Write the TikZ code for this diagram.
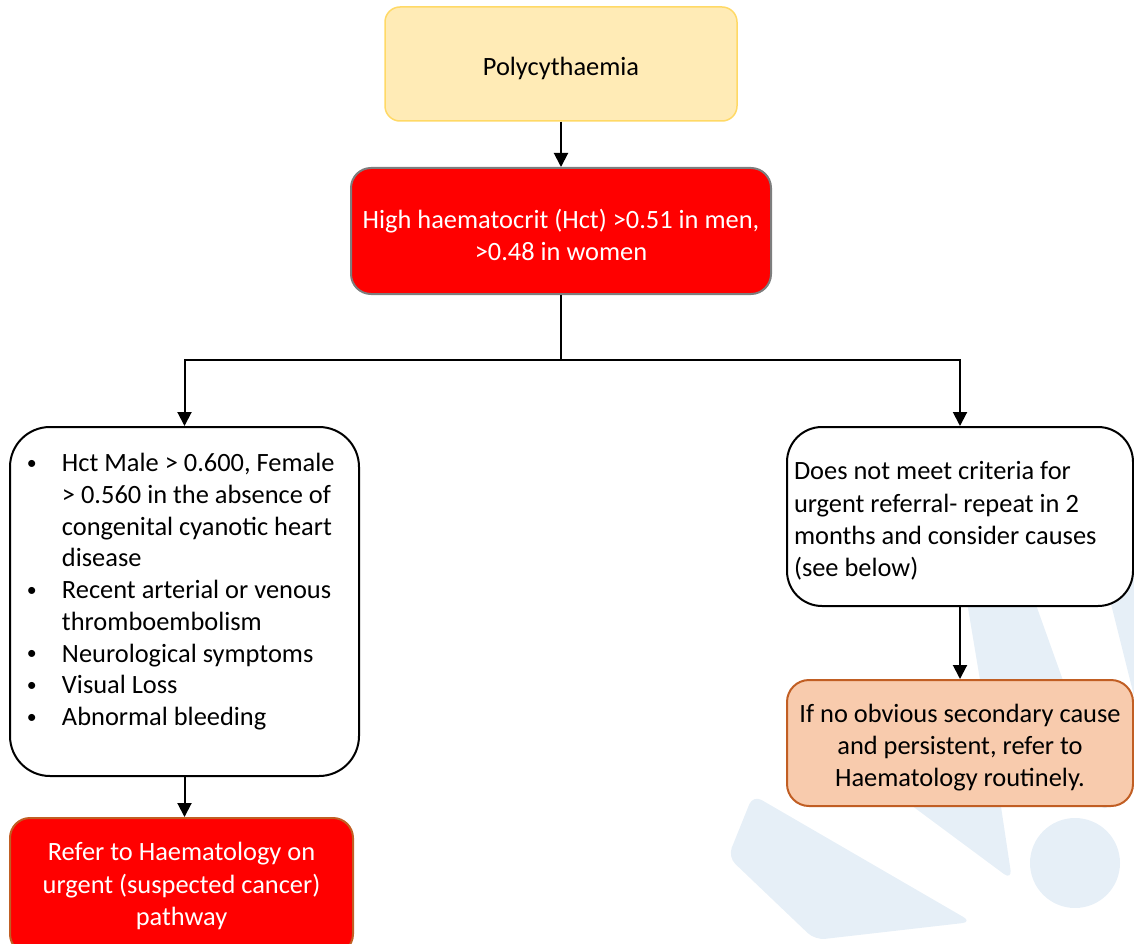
\documentclass[tikz,border=0pt]{standalone}
\usepackage{fontspec}
\usepackage{graphicx}
\setmainfont{Carlito}
\usetikzlibrary{arrows.meta}
\definecolor{paleyellow}{RGB}{255,235,182}
\definecolor{goldline}{RGB}{255,217,102}
\definecolor{peach}{RGB}{248,203,173}
\definecolor{rust}{RGB}{193,94,35}
\definecolor{greyline}{RGB}{125,125,125}
\definecolor{wmblue}{RGB}{230,239,247}
\newcommand\boxfont{\fontsize{26.4}{32.2}\selectfont}
\newcommand\listfont{\fontsize{26.4}{31.75}\selectfont}
\newcommand\bul{\makebox[35pt][l]{\raisebox{0.08em}{\scalebox{0.75}{\textbullet}}}}
\newcommand\indentline{\hspace*{35pt}}
\tikzset{
  flowbox/.style={draw, line width=2pt, font=\boxfont, inner sep=0pt, align=flush center,
    execute at begin node=\rule{0pt}{27pt}},
  startbox/.style={flowbox, fill=paleyellow, draw=goldline, line width=1.5pt, rounded corners=15pt},
  alertbox/.style={flowbox, fill=red, text=white, rounded corners=20pt},
  notebox/.style={flowbox, fill=white, draw=black, align=flush left},
  advicebox/.style={flowbox, fill=peach, draw=rust, rounded corners=22pt},
  link/.style={line width=2pt, -{Triangle[width=14pt,length=14pt]}}
}
\begin{document}
\begin{tikzpicture}[x=1pt, y=-1pt]
\useasboundingbox (0, 0) rectangle (1134, 944);
% watermark
\fill [wmblue, rounded corners=10pt] (753, 795) -- (728, 857) -- (815, 940) -- (972, 922) -- cycle;
\fill [wmblue, rounded corners=10pt] (960, 560) -- (1020, 560) -- (1110, 812) -- (990, 740) -- cycle;
\fill [wmblue, rounded corners=10pt] (830, 745) -- (985, 700) -- (1012, 880) -- cycle;
\fill [wmblue, rounded corners=10pt] (1100, 560) -- (1200, 560) -- (1200, 800) -- (1160, 800) -- cycle;
\fill [wmblue] (1075, 863) circle (45);

\node [startbox, minimum width=352pt, minimum height=114pt] (poly) at (561, 64) {Polycythaemia};
\node [alertbox, draw=greyline, text width=420pt, minimum height=126pt] (high) at (561, 231) {High haematocrit (Hct) >0.51 in men,\\>0.48 in women};
\node [notebox, font=\listfont, rounded corners=40pt, text width=315pt, inner xsep=17pt, minimum height=349pt] (crit) at (184.5, 601.5) {\bul Hct Male > 0.600, Female\\\indentline > 0.560 in the absence of\\\indentline congenital cyanotic heart\\\indentline disease\\\bul Recent arterial or venous\\\indentline thromboembolism\\\bul Neurological symptoms\\\bul Visual Loss\\\bul Abnormal bleeding\rule[-33pt]{0pt}{0pt}};
\node [notebox, rounded corners=35pt, text width=332pt, inner xsep=7pt, minimum height=179pt] (repeat) at (960, 516.5) {Does not meet criteria for\\urgent referral- repeat in 2\\months and consider causes\\(see below)};
\node [advicebox, text width=346pt, minimum height=126pt] (routine) at (960, 743) {If no obvious secondary cause\\and persistent, refer to\\Haematology routinely.};
\node [alertbox, draw=rust, align=center, minimum width=343pt, minimum height=136pt] (urgent) at (181.5, 886) {Refer to Haematology on\\urgent (suspected cancer)\\pathway};
\coordinate (split) at (561, 360);

\draw [link] (poly) to (high);
\draw [link] (high.south) -- (split) -| (crit.north);
\draw [link] (split) -| (repeat.north);
\draw [link] (repeat) to (routine);
\draw [link] (crit.south) -- (crit.south |- urgent.north);
\end{tikzpicture}
\end{document}
